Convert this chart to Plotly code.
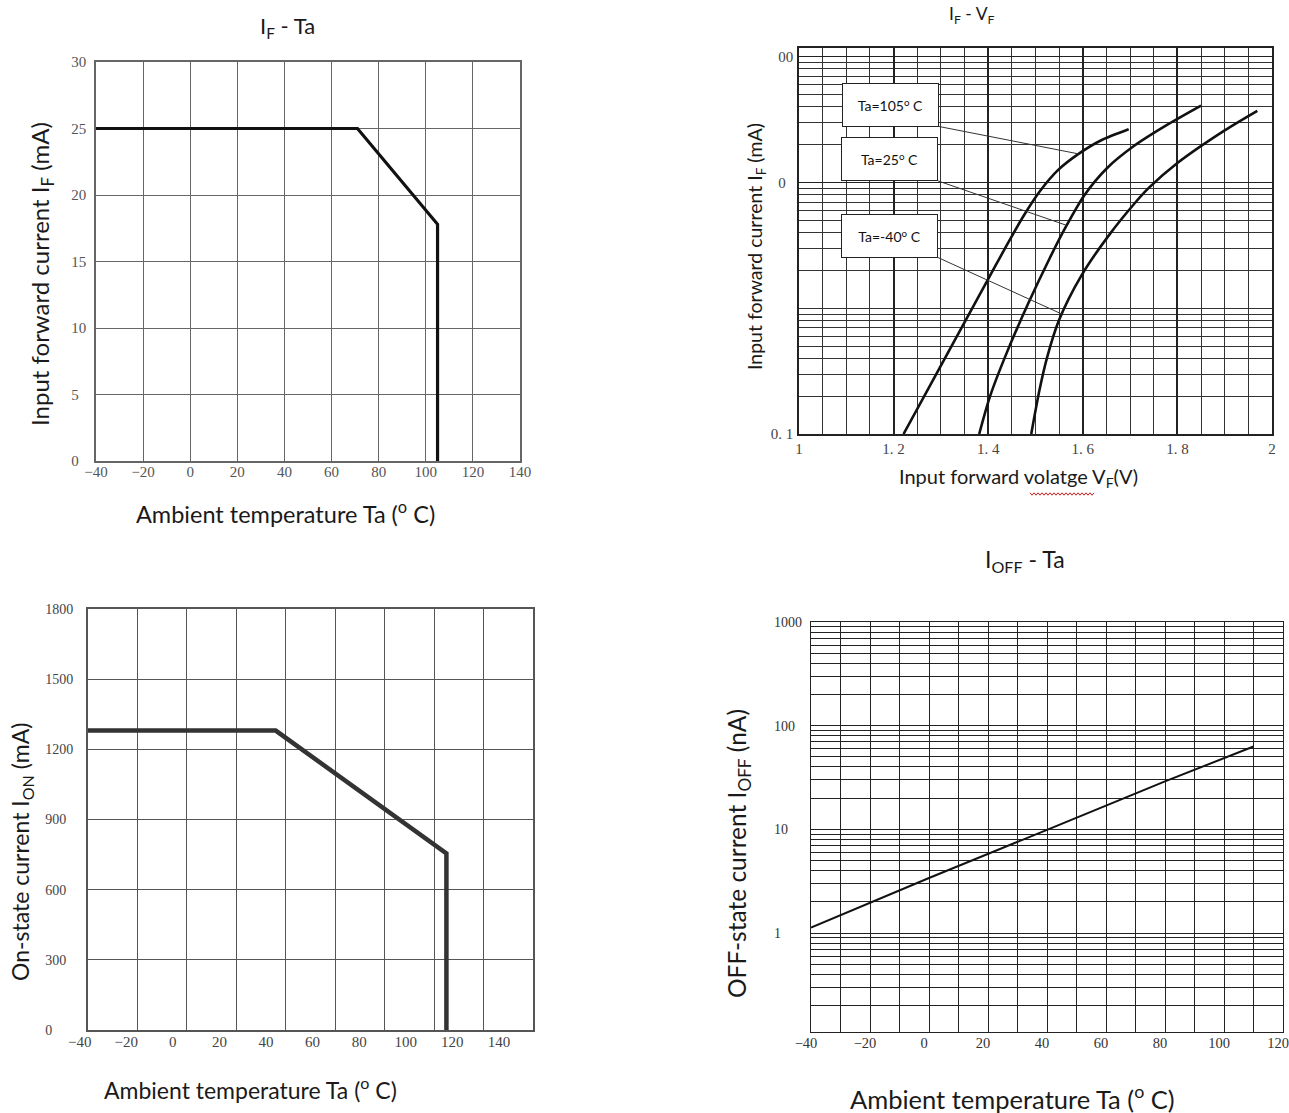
import numpy as np
import plotly.graph_objects as go

W, H = 1289, 1113

# ---------------- data ----------------
# IF - Ta (derating of input forward current)
if_ta_temp = [-40, 71, 105, 105]
if_ta_current = [25, 25, 17.8, 0]
if_ta_xticks = [-40, -20, 0, 20, 40, 60, 80, 100, 120, 140]
if_ta_yticks = [0, 5, 10, 15, 20, 25, 30]

# IF - VF (three ambient temperatures)
vf_105 = [1.221, 1.300, 1.397, 1.439, 1.474, 1.510, 1.548, 1.591, 1.637, 1.697]
if_105 = [0.1, 0.35, 1.63, 3.16, 5.37, 8.6, 12.6, 16.9, 21.5, 26.5]
vf_25 = [1.381, 1.404, 1.440, 1.485, 1.530, 1.562, 1.603, 1.651, 1.708, 1.778, 1.850]
if_25 = [0.1, 0.2, 0.45, 1.1, 2.5, 4.3, 7.9, 13.0, 19.5, 28.7, 40.9]
vf_m40 = [1.491, 1.508, 1.524, 1.550, 1.597, 1.655, 1.712, 1.740, 1.800, 1.900, 1.969]
if_m40 = [0.1, 0.22, 0.40, 0.81, 1.82, 3.8, 7.0, 9.1, 14.3, 26.0, 37.2]
vf_series_labels = ["Ta=105<sup>o</sup> C", "Ta=25<sup>o</sup> C", "Ta=-40<sup>o</sup> C"]
vf_label_anchor_v = [1.591, 1.566, 1.556]          # where each leader touches its curve
vf_label_box_corner_v = [1.296, 1.294, 1.294]      # bottom-right corner of each label box
vf_label_box_corner_i = [27.9, 10.3, 2.53]
vf_xtick_vals = [1, 1.2, 1.4, 1.6, 1.8, 2]
vf_xtick_text = ["1", "1. 2", "1. 4", "1. 6", "1. 8", "2"]
vf_ytick_vals = [0.1, 10, 100]
vf_ytick_text = ["0. 1", "0\u2007", "00"]

# ION - Ta (derating of on-state current)
ion_temp = [-40, 36, 105, 105]
ion_current = [1280, 1280, 755, 0]
ion_xtick_labels = [-40, -20, 0, 20, 40, 60, 80, 100, 120, 140]
ion_yticks = [0, 300, 600, 900, 1200, 1500, 1800]

# IOFF - Ta
ioff_temp = [-40, 0, 40, 80, 110]
ioff_current = [1.13, 3.4, 9.9, 29, 63]
ioff_xticks = [-40, -20, 0, 20, 40, 60, 80, 100, 120]
ioff_yticks = [1, 10, 100, 1000]

# ---------------- helpers ----------------
SANS = "Lato, 'Open Sans', sans-serif"
SERIF = "'Liberation Serif', 'DejaVu Serif', serif"
FIG_SP = "\u2007"


def px(x):
    return x / W


def py(y):
    return 1 - y / H


def dom(box):
    x0, y0, x1, y1 = box
    return [px(x0), px(x1)], [py(y1), py(y0)]


P1 = (96, 62, 520, 461)
P2 = (799, 48, 1272, 434)
P3 = (87.7, 609, 533, 1030)
P4 = (811, 622, 1283, 1031.6)

fig = go.Figure()

# chart 1
fig.add_trace(go.Scatter(x=if_ta_temp, y=if_ta_current, mode="lines",
                         line=dict(color="#111", width=3.2),
                         xaxis="x", yaxis="y", showlegend=False, hoverinfo="skip"))

# chart 2 curves
for vf, cur in [(vf_105, if_105), (vf_25, if_25), (vf_m40, if_m40)]:
    fig.add_trace(go.Scatter(x=vf, y=cur, mode="lines",
                             line=dict(color="#111", width=2.6, shape="spline", smoothing=0.8),
                             xaxis="x2", yaxis="y2", showlegend=False, hoverinfo="skip"))

# chart 2 leader lines (from label box corner to the curve)
curves = [(vf_105, if_105), (vf_25, if_25), (vf_m40, if_m40)]
for (vf, cur), va, cv, ci in zip(curves, vf_label_anchor_v, vf_label_box_corner_v, vf_label_box_corner_i):
    ia = 10 ** np.interp(va, vf, np.log10(cur))
    fig.add_trace(go.Scatter(x=[cv, va], y=[ci, ia], mode="lines",
                             line=dict(color="#333", width=1),
                             xaxis="x2", yaxis="y2", showlegend=False, hoverinfo="skip"))

# chart 3
fig.add_trace(go.Scatter(x=ion_temp, y=ion_current, mode="lines",
                         line=dict(color="#333", width=4.5),
                         xaxis="x3", yaxis="y3", showlegend=False, hoverinfo="skip"))

# chart 4
fig.add_trace(go.Scatter(x=ioff_temp, y=ioff_current, mode="lines",
                         line=dict(color="#111", width=2),
                         xaxis="x4", yaxis="y4", showlegend=False, hoverinfo="skip"))


def log_minor(lo_exp, hi_exp, majors, lo=0.0, hi=1e9):
    vals = []
    for e in range(lo_exp, hi_exp + 1):
        for m in range(1, 10):
            v = m * 10.0 ** e
            if lo <= v <= hi and not any(abs(v - mj) < 1e-9 for mj in majors):
                vals.append(v)
    return vals


common_axis = dict(showline=True, mirror=True, ticks="", zeroline=False,
                   fixedrange=True, automargin=False)

d1x, d1y = dom(P1)
d2x, d2y = dom(P2)
d3x, d3y = dom(P3)
d4x, d4y = dom(P4)

# chart 3 tick labels sit slightly off the grid in the reference
ion_label_step = 18.83
ion_tick_pos = [-40 + i * ion_label_step for i in range(len(ion_xtick_labels))]

layout = dict(
    width=W, height=H, autosize=False,
    margin=dict(l=0, r=0, t=0, b=0, pad=0, autoexpand=False),
    paper_bgcolor="white", plot_bgcolor="white",
    showlegend=False,
    xaxis=dict(domain=d1x, anchor="y", range=[-40, 140], tickvals=if_ta_xticks,
               showgrid=True, gridcolor="#666", gridwidth=1, linecolor="#666", linewidth=1.5,
               tickfont=dict(family=SERIF, size=15, color="#555"), ticklabelstandoff=-4,
               **common_axis),
    yaxis=dict(domain=d1y, anchor="x", range=[0, 30], tickvals=if_ta_yticks,
               ticktext=[str(v).ljust(2, FIG_SP) for v in if_ta_yticks],
               showgrid=True, gridcolor="#666", gridwidth=1, linecolor="#666", linewidth=1.5,
               tickfont=dict(family=SERIF, size=15, color="#555"), ticklabelstandoff=5,
               **common_axis),
    xaxis2=dict(domain=d2x, anchor="y2", range=[1, 2], tickvals=vf_xtick_vals, ticktext=vf_xtick_text,
                showgrid=True, gridcolor="#222", gridwidth=1.6, linecolor="#222", linewidth=1.6,
                minor=dict(tick0=1, dtick=0.05, showgrid=True, gridcolor="#333", gridwidth=1, ticks=""),
                tickfont=dict(family=SERIF, size=15, color="#444"), ticklabelstandoff=0,
                ticklabeloverflow="allow", **common_axis),
    yaxis2=dict(domain=d2y, anchor="x2", type="log", range=[-1, 2.07],
                tickvals=vf_ytick_vals, ticktext=vf_ytick_text,
                showgrid=True, gridcolor="#222", gridwidth=1.4, linecolor="#222", linewidth=1.6,
                minor=dict(tickmode="array", tickvals=log_minor(-1, 2, vf_ytick_vals, hi=110),
                           showgrid=True, gridcolor="#333", gridwidth=1, ticks=""),
                tickfont=dict(family=SERIF, size=15, color="#444"), ticklabelstandoff=1,
                **common_axis),
    xaxis3=dict(domain=d3x, anchor="y3", range=[-40, 140],
                tickvals=ion_tick_pos, ticktext=[str(v).replace("-", "\u2212") for v in ion_xtick_labels],
                ticklabelshift=-8, showgrid=False, linecolor="#555", linewidth=1.5,
                minor=dict(tick0=-40, dtick=20, showgrid=True, gridcolor="#555", gridwidth=1, ticks=""),
                tickfont=dict(family=SERIF, size=15, color="#444"), ticklabelstandoff=-3,
                **common_axis),
    yaxis3=dict(domain=d3y, anchor="x3", range=[0, 1800], tickvals=ion_yticks,
                ticktext=[str(v).ljust(4, FIG_SP) for v in ion_yticks],
                showgrid=True, gridcolor="#555", gridwidth=1, linecolor="#555", linewidth=1.5,
                tickfont=dict(family=SERIF, size=14, color="#444"), ticklabelstandoff=10,
                **common_axis),
    xaxis4=dict(domain=d4x, anchor="y4", range=[-40, 120], tickvals=ioff_xticks,
                ticktext=[str(v).replace("-", "\u2212") for v in ioff_xticks],
                showgrid=True, gridcolor="#222", gridwidth=1, linecolor="#222", linewidth=1.2,
                minor=dict(tick0=-40, dtick=10, showgrid=True, gridcolor="#222", gridwidth=1, ticks=""),
                tickfont=dict(family=SERIF, size=14.5, color="#333"), ticklabelstandoff=-2,
                ticklabelshift=-5, ticklabeloverflow="allow", **common_axis),
    yaxis4=dict(domain=d4y, anchor="x4", type="log", range=[-0.95, 3],
                tickvals=ioff_yticks, ticktext=[str(v).ljust(4, FIG_SP) for v in ioff_yticks],
                showgrid=True, gridcolor="#222", gridwidth=1, linecolor="#222", linewidth=1.2,
                minor=dict(tickmode="array", tickvals=log_minor(-1, 2, ioff_yticks, lo=0.11),
                           showgrid=True, gridcolor="#222", gridwidth=1, ticks=""),
                tickfont=dict(family=SERIF, size=14, color="#333"), ticklabelstandoff=5,
                **common_axis),
)

annotations = []


def text_ann(text, x, y, size, angle=0, color="#1a1a1a"):
    annotations.append(dict(text=text, x=px(x), y=py(y), xref="paper", yref="paper",
                            xanchor="center", yanchor="middle", showarrow=False,
                            textangle=angle, font=dict(family=SANS, size=size, color=color)))


DEG = "(<sup>o</sup> C)"
# chart 1
text_ann("I<sub>F</sub> - Ta", 287, 27, 22)
text_ann("Input forward current I<sub>F</sub> (mA)", 42, 274, 24, angle=-90)
text_ann("Ambient temperature Ta " + DEG, 285, 513, 23.5)
# chart 2
text_ann("I<sub>F</sub> - V<sub>F</sub>", 972, 15, 17.5)
text_ann("Input forward current I<sub>F</sub> (mA)", 756, 247, 19.5, angle=-90)
text_ann("Input forward volatge V<sub>F</sub>(V)", 1018, 478, 20)
# chart 3
text_ann("On-state current I<sub>ON</sub> (mA)", 21, 852, 23, angle=-90)
text_ann("Ambient temperature Ta " + DEG, 250, 1088, 23)
# chart 4
text_ann("I<sub>OFF</sub> - Ta", 1025, 560, 23)
text_ann("OFF-state current I<sub>OFF</sub> (nA)", 738, 854, 24.5, angle=-90)
text_ann("Ambient temperature Ta " + DEG, 1012, 1097, 25.5)

# chart 2 label boxes
for lab, cv, ci in zip(vf_series_labels, vf_label_box_corner_v, vf_label_box_corner_i):
    annotations.append(dict(text=lab, x=cv, y=np.log10(ci), xref="x2", yref="y2",
                            xanchor="right", yanchor="bottom", showarrow=False,
                            width=93, height=40, borderpad=1, borderwidth=1, bordercolor="#222",
                            bgcolor="white", align="center", valign="middle",
                            font=dict(family=SANS, size=14, color="#111")))

layout["annotations"] = annotations

# spell-check squiggle under "volatge"
sx = np.arange(1030, 1094.1, 2.0)
sy = 494 + np.where(np.arange(len(sx)) % 2 == 0, -1.2, 1.2)
path = "M " + " L ".join(f"{px(a):.5f},{py(b):.5f}" for a, b in zip(sx, sy))
layout["shapes"] = [dict(type="path", path=path, xref="paper", yref="paper",
                         line=dict(color="#d02020", width=1))]

fig.update_layout(**layout)
fig.write_html("out.html", config={"displayModeBar": False},
               post_script="document.body.style.margin='0';document.body.style.padding='0';")
